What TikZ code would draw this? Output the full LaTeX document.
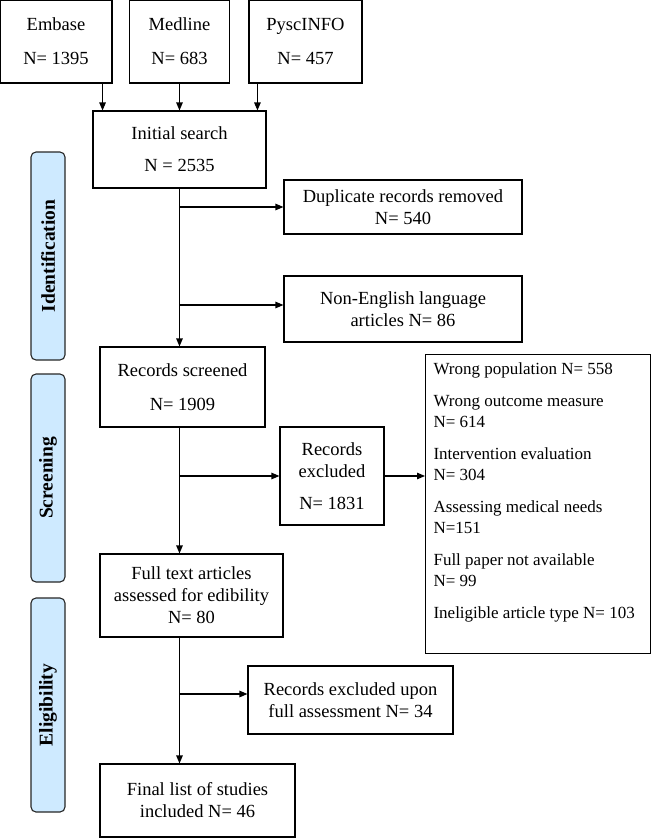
\documentclass[tikz,border=0pt]{standalone}
\usepackage{fontspec}
\setmainfont{Liberation Serif}
\usepackage{tikz}
\usetikzlibrary{calc,positioning}
\usetikzlibrary{arrows.meta}
\tikzset{>={Triangle[width=6.5pt,length=8pt]}}
\definecolor{sidefill}{RGB}{206,234,255}

\begin{document}
\begin{tikzpicture}[x=1pt,y=-1pt]
        \tikzstyle{bnode} = [draw=black, line width=1.1pt, rectangle, inner sep=2pt, align=center, font=\fontsize{18.5}{22}\selectfont]
        \tikzstyle{snode} = [draw=black!85, line width=1.1pt, fill=sidefill, rounded corners=5pt, rotate=90, inner sep=0pt, font=\fontsize{19.5}{21}\selectfont\bfseries]
        \tikzstyle{link} = [draw, line width=1.1pt]

        \useasboundingbox (0,0) rectangle (651,838);

        % sources
        \node[bnode, minimum width=112, minimum height=83] (embase) at (56,41.5) {Embase\\[12pt]N= 1395};
        \node[bnode, minimum width=100, minimum height=83] (medline) at (179.5,41.5) {Medline\\[12pt]N= 683};
        \node[bnode, minimum width=113, minimum height=83] (pysc) at (305.5,41.5) {PyscINFO\\[12pt]N= 457};

        \node[bnode, minimum width=173, minimum height=77] (init) at (179.5,149.5) {Initial search\\[10pt]N = 2535};
        \node[bnode, minimum width=238, minimum height=54] (dup) at (403,207) {Duplicate records removed\\N= 540};
        \node[bnode, minimum width=238, minimum height=66] (nonen) at (403,309) {Non-English language\\articles N= 86};

        \node[bnode, minimum width=165, minimum height=80] (screen) at (182.5,387) {Records screened\\[12pt]N= 1909};
        \node[bnode, minimum width=104, minimum height=98] (excl) at (332,476) {Records\\excluded\\[10pt]N= 1831};
        \node[bnode, anchor=north west, inner sep=8pt, font=\fontsize{17}{20.5}\selectfont] (reasons) at (425,354) {\parbox[t][283pt][t]{209pt}{\raggedright\baselineskip=20.5pt
            Wrong population N= 558\\[12pt]
            Wrong outcome measure\\N= 614\\[12pt]
            Intervention evaluation\\N= 304\\[12pt]
            Assessing medical needs\\N=151\\[12pt]
            Full paper not available\\N= 99\\[12pt]
            Ineligible article type N= 103}};

        \node[bnode, minimum width=183, minimum height=83] (full) at (191.5,595.5) {Full text articles\\assessed for edibility\\N= 80};
        \node[bnode, minimum width=205, minimum height=68] (exclfull) at (350.5,700) {Records excluded upon\\full assessment N= 34};
        \node[bnode, minimum width=195, minimum height=73] (final) at (197.5,800.5) {Final list of studies\\included N= 46};

        % phase labels
        \node[snode, minimum width=208, minimum height=34] (ident) at (48,256) {Identification};
        \node[snode, minimum width=208, minimum height=34] (screening) at (48,478) {Screening};
        \node[snode, minimum width=214, minimum height=34] (elig) at (48,705) {Eligibility};

        % connectors
        \coordinate (e1) at ([xshift=-10pt]embase.south east);
        \coordinate (p1) at ([xshift=9pt]pysc.south west);
        \coordinate (j1) at (init.south |- dup.west);
        \coordinate (j2) at ($(init.south |- nonen.west)+(0,-4)$);
        \coordinate (j3) at (init.south |- excl.west);
        \coordinate (j4) at ($(init.south |- exclfull.west)+(0,-6)$);

        \path[-, link]
        (e1) edge[->] (e1 |- init.north)
        (medline.south) edge[->] (medline.south |- init.north)
        (p1) edge[->] (p1 |- init.north)

        (init.south) edge[->] (init.south |- screen.north)
        (j1) edge[->] (dup.west)
        (j2) edge[->] (j2 -| nonen.west)

        (init.south |- screen.south) edge[->] (init.south |- full.north)
        (j3) edge[->] (excl.west)
        (excl.east) edge[->] (excl.east -| reasons.west)

        (init.south |- full.south) edge[->] (init.south |- final.north)
        (j4) edge[->] (j4 -| exclfull.west)
        ;
\end{tikzpicture}
\end{document}
